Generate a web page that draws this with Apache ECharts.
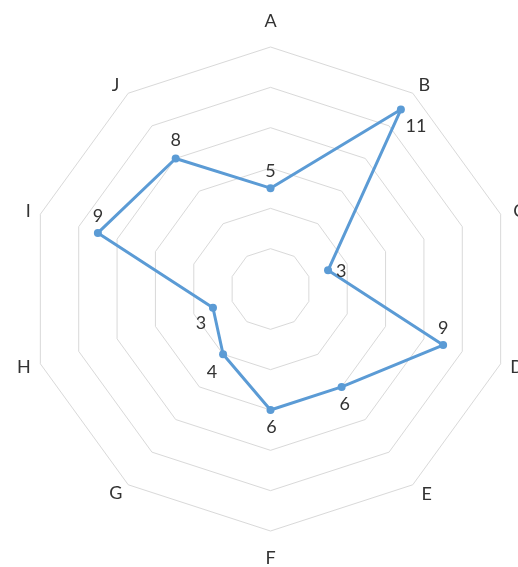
<!DOCTYPE html>
<html>
<head>
<meta charset="utf-8">
<script src="https://cdn.jsdelivr.net/npm/echarts@6/dist/echarts.min.js"></script>
<style>
html,body{margin:0;padding:0;background:#fff;}
#chart{width:518px;height:567px;}
</style>
</head>
<body>
<div id="chart"></div>
<script>
// Data
var categories = ['A','B','C','D','E','F','G','H','I','J'];
var values = [5, 11, 3, 9, 6, 6, 4, 3, 9, 8];
var maxValue = 12;
var ringCount = 6;
// label placement per point: [position, offsetX, offsetY]
var labelPlacement = [
  ['top', 0, 0],
  ['bottom', 15, 0],
  ['right', 0, 1],
  ['top', 0, 0],
  ['bottom', 3, 0],
  ['bottom', 1, 0],
  ['bottom', -11, 1],
  ['bottom', -12, -2],
  ['top', 0, 0],
  ['top', 0, -1]
];

var CX = 270.5, CY = 289, R = 242;
var FONT = 'Lato';
var TEXT = '#333333';
var BLUE = '#5B9BD5';
var FS = 18;

// Radar indicators run counter-clockwise, so list them in reverse after A
var indicatorOrder = [0].concat(categories.slice(1).map(function(_, i){ return categories.length - 1 - i; }));
var indicators = indicatorOrder.map(function(i){ return {name: categories[i], max: maxValue, min: 0}; });
var radarValues = indicatorOrder.map(function(i){ return values[i]; });

// per-name style tweaks (rich text keys)
var nameStyle = {
  A: {padding: [0, 0, 7, 0]},
  B: {lineHeight: FS - 6},
  C: {padding: [0, 0, 0, 3]},
  D: {},
  E: {padding: [3, 0, 0, 3]},
  F: {padding: [8, 0, 0, 0]},
  G: {padding: [1, 0, 0, 0]},
  H: {},
  I: {},
  J: {lineHeight: FS - 4, padding: [0, 3, 0, 0]}
};
var rich = {};
categories.forEach(function(c){
  var s = {color: TEXT, fontSize: FS, fontFamily: FONT};
  var t = nameStyle[c];
  for (var k in t) s[k] = t[k];
  rich['n' + c] = s;
});

var labelData = categories.map(function(c, i){
  var p = labelPlacement[i];
  return {
    value: [values[i], i],
    label: {show: true, position: p[0], offset: [p[1], p[2]]}
  };
});

var chart = echarts.init(document.getElementById('chart'), null, {renderer: 'canvas'});
chart.setOption({
  animation: false,
  backgroundColor: '#ffffff',
  radar: {
    center: [CX, CY],
    radius: R,
    startAngle: 90,
    splitNumber: ringCount,
    shape: 'polygon',
    indicator: indicators,
    axisName: {
      color: TEXT, fontSize: FS, fontFamily: FONT,
      formatter: function(name){ return '{n' + name + '|' + name + '}'; },
      rich: rich
    },
    nameGap: 10,
    axisLine: {show: false},
    axisTick: {show: false},
    axisLabel: {show: false},
    splitArea: {show: false},
    splitLine: {lineStyle: {color: '#d9d9d9', width: 1}}
  },
  polar: {center: [CX, CY], radius: R},
  angleAxis: {
    type: 'category',
    data: categories,
    boundaryGap: false,
    startAngle: 90,
    clockwise: true,
    axisLine: {show: false},
    axisTick: {show: false},
    axisLabel: {show: false},
    splitLine: {show: false}
  },
  radiusAxis: {
    type: 'value',
    min: 0,
    max: maxValue,
    axisLine: {show: false},
    axisTick: {show: false},
    axisLabel: {show: false},
    splitLine: {show: false}
  },
  series: [{
    type: 'radar',
    data: [{value: radarValues}],
    symbol: 'circle',
    symbolSize: 8,
    lineStyle: {color: BLUE, width: 3},
    itemStyle: {color: BLUE},
    label: {show: false},
    z: 3
  }, {
    type: 'scatter',
    coordinateSystem: 'polar',
    data: labelData,
    symbol: 'circle',
    symbolSize: 8,
    itemStyle: {color: 'rgba(0,0,0,0)'},
    label: {color: TEXT, fontSize: FS, fontFamily: FONT, distance: 4, opacity: 1},
    z: 4
  }]
});
</script>
</body>
</html>
